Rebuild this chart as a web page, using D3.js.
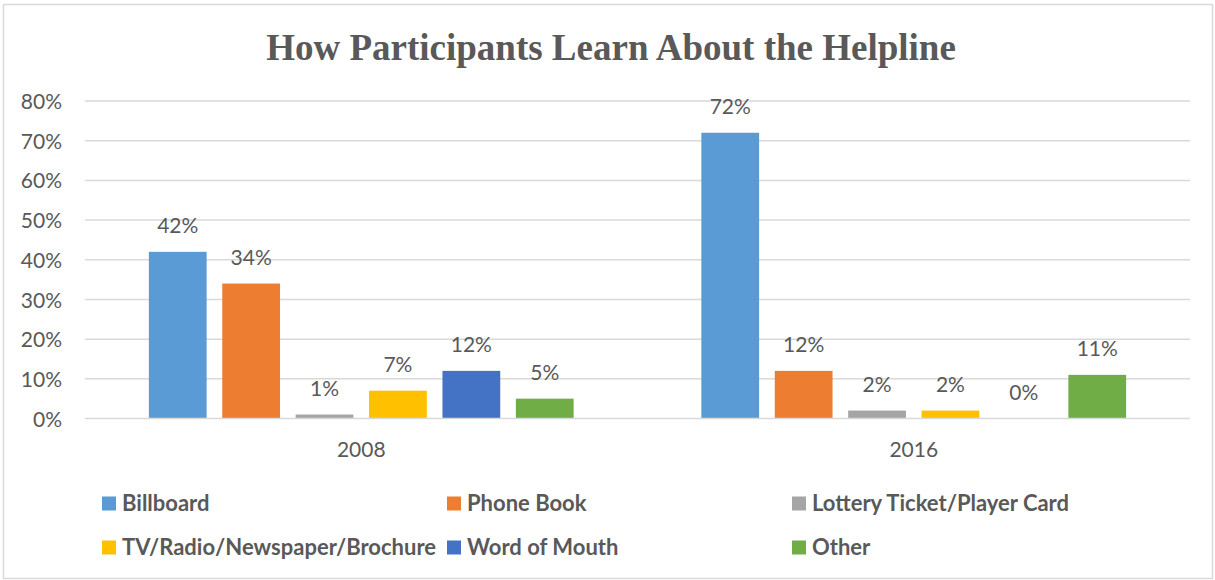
<!DOCTYPE html>
<html><head><meta charset="utf-8">
<script src="https://cdn.jsdelivr.net/npm/d3@7"></script>
<style>body{margin:0;background:#fff}svg{display:block}</style>
</head><body><svg id="c" width="1215" height="580"></svg>
<script>
const categories = ["2008", "2016"];
const seriesNames = ["Billboard", "Phone Book", "Lottery Ticket/Player Card", "TV/Radio/Newspaper/Brochure", "Word of Mouth", "Other"];
const seriesColors = ["#5B9BD5", "#ED7D31", "#A5A5A5", "#FFC000", "#4472C4", "#70AD47"];
const values2008 = [42, 34, 1, 7, 12, 5];
const values2016 = [72, 12, 2, 2, 0, 11];
const yTicks = [0, 10, 20, 30, 40, 50, 60, 70, 80];
const title = "How Participants Learn About the Helpline";
const valuesByCat = [values2008, values2016];

(function(){
const svg = d3.select("#c");
const txt = "#595959";
const font = "Lato, 'Open Sans', sans-serif";

svg.append("rect").attr("x", 3.5).attr("y", 4.5).attr("width", 1209).attr("height", 574)
  .attr("fill", "#fff").attr("stroke", "#D9D9D9").attr("stroke-width", 1.5);

svg.append("text").attr("x", 611).attr("y", 60).attr("text-anchor", "middle")
  .attr("font-family", "'Liberation Serif', 'Times New Roman', serif").attr("font-weight", "bold")
  .attr("font-size", 37).attr("fill", txt).text(title);

const pLeft = 85, pRight = 1190, pTop = 101, pBottom = 418.5;
const y = d3.scaleLinear().domain([0, 80]).range([pBottom, pTop]);
const x0 = d3.scaleBand().domain(categories).range([pLeft, pRight]).padding(0);
const x1 = d3.scaleBand().domain(seriesNames).range([0, x0.bandwidth()]).paddingInner(0.213).paddingOuter(0.87);

svg.append("g").selectAll("line").data(yTicks.filter(d => d > 0)).join("line")
  .attr("x1", pLeft).attr("x2", pRight).attr("y1", d => y(d)).attr("y2", d => y(d))
  .attr("stroke", "#D9D9D9").attr("stroke-width", 1.5);

const yAxis = d3.axisLeft(y).tickValues(yTicks).tickFormat(d => d + "%").tickSize(0).tickPadding(0);
const ya = svg.append("g").attr("transform", `translate(62,0)`).call(yAxis);
ya.select(".domain").remove();
ya.selectAll("text").attr("font-family", font).attr("font-size", 21).attr("fill", txt).attr("dy", "0.36em");

const groups = svg.append("g").selectAll("g").data(categories).join("g")
  .attr("transform", d => `translate(${x0(d)},0)`);
groups.each(function(cat, ci) {
  const g = d3.select(this);
  const data = seriesNames.map((s, i) => ({s, i, v: valuesByCat[ci][i]}));
  g.selectAll("rect").data(data).join("rect")
    .attr("x", d => x1(d.s)).attr("width", x1.bandwidth())
    .attr("y", d => y(d.v)).attr("height", d => y(0) - y(d.v))
    .attr("fill", d => seriesColors[d.i]);
  g.selectAll("text").data(data).join("text")
    .attr("x", d => x1(d.s) + x1.bandwidth() / 2).attr("y", d => y(d.v) - 18.5)
    .attr("text-anchor", "middle").attr("font-family", font).attr("font-size", 21).attr("fill", txt)
    .text(d => d.v + "%");
});

svg.append("line").attr("x1", pLeft).attr("x2", pRight).attr("y1", pBottom).attr("y2", pBottom)
  .attr("stroke", "#D9D9D9").attr("stroke-width", 1.5);

const xAxis = d3.axisBottom(x0).tickSize(0).tickPadding(0);
const xa = svg.append("g").attr("transform", `translate(0,${pBottom})`).call(xAxis);
xa.select(".domain").remove();
xa.selectAll("text").attr("font-family", font).attr("font-size", 21).attr("fill", txt)
  .attr("dy", null).attr("y", 38.5);

const legendPos = [[102, 503.5], [447, 503.5], [792, 503.5], [102, 547.5], [447, 547.5], [792, 547.5]];
const lg = svg.append("g").selectAll("g").data(seriesNames).join("g")
  .attr("transform", (d, i) => `translate(${legendPos[i][0]},${legendPos[i][1]})`);
lg.append("rect").attr("x", 0).attr("y", -7).attr("width", 14).attr("height", 14)
  .attr("fill", (d, i) => seriesColors[i]);
lg.append("text").attr("x", 20).attr("y", 7)
  .attr("font-family", font).attr("font-weight", "bold").attr("font-size", 22).attr("fill", txt)
  .text(d => d);
})();
</script></body></html>
